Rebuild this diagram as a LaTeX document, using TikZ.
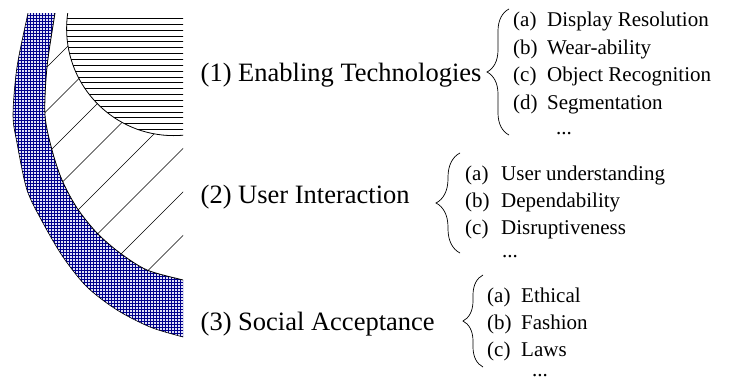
\documentclass[tikz,border=0pt]{standalone}
\usepackage{fontspec}
\setmainfont{Liberation Serif}
\usetikzlibrary{decorations.pathreplacing}

\definecolor{gridblue}{RGB}{0,0,140}
\definecolor{bandtint}{RGB}{226,226,246}

\tikzset{
  ring/.style={draw=black, line width=0.8pt},
  hatch/.style={draw=black, line width=0.6pt},
  gridline/.style={draw=gridblue, line width=0.36pt},
  heading/.style={anchor=base west, inner sep=0pt, font=\fontsize{26.5}{30}\selectfont},
  item/.style={anchor=base west, inner sep=0pt, font=\fontsize{21}{24}\selectfont},
  curly/.style={draw=black, line width=0.7pt, decorate, decoration={brace, amplitude=#1}},
}

\begin{document}
\begin{tikzpicture}[x=1pt, y=-1pt]
  \useasboundingbox (0,0) rectangle (729,381);
  \def\outercurve{plot[smooth] coordinates {(31,0) (28,13) (17,67) (13,115) (17,143) (27,190) (43,223) (63,257) (87,287) (117,310) (150,327) (183,337) (200,341)} -- (200,0) -- cycle}
  \def\middlecurve{plot[smooth] coordinates {(57,0) (55,13) (47,67) (45,115) (52,150) (62,180) (77,208) (97,233) (120,253) (147,270) (183,280) (200,284)} -- (200,0) -- cycle}
  \def\innercircle{(173.6,28.6) circle[radius=107]}

  \begin{scope}
    \clip (0,13) rectangle (183,381);
    % outer band
    \begin{scope}[even odd rule]
      \clip \outercurve \middlecurve;
      \fill[bandtint] (0,0) rectangle (200,345);
      \draw[gridline, step=3pt] (0,0) grid (200,345);
    \end{scope}
    % middle band
    \begin{scope}[even odd rule]
      \clip \middlecurve \innercircle;
      \foreach \k in {0,...,7}
        \draw[hatch] (0,{114+43.5*\k}) -- ({114+43.5*\k},0);
    \end{scope}
    % core
    \begin{scope}
      \clip \innercircle;
      \foreach \k in {0,...,20}
        \draw[hatch] (60,{18.3+5.85*\k}) -- (190,{18.3+5.85*\k});
    \end{scope}
    \draw[ring, line width=0.6pt] \outercurve;
    \draw[ring] \middlecurve;
    \draw[ring] \innercircle;
  \end{scope}

  % headings
  \node[heading] (tech) at (200.5,81.7) {(1) Enabling Technologies};
  \node[heading] (user) at (200.5,203) {(2) User Interaction};
  \node[heading] (social) at (200.5,330) {(3) Social Acceptance};

  % braces
  \coordinate (techlo) at (509,135);
  \coordinate (techhi) at (509,9);
  \coordinate (userlo) at (460,253);
  \coordinate (userhi) at (460,153);
  \coordinate (sociallo) at (483,367);
  \coordinate (socialhi) at (483,275);
  \draw[curly=22pt] (techlo) -- (techhi);
  \draw[curly=24pt] (userlo) -- (userhi);
  \draw[curly=20pt] (sociallo) -- (socialhi);

  % items
  \foreach \lab/\txt [count=\i] in {(a)/Display Resolution, (b)/Wear-ability, (c)/Object Recognition, (d)/Segmentation} {
    \node[item] (techl\i) at (513,{26.5+27.5*(\i-1)}) {\lab};
    \node[item] (techt\i) at (547,{26.5+27.5*(\i-1)}) {\txt};
  }
  \node[item] (techdots) at (556,134) {...};
  \foreach \lab/\txt [count=\i] in {(a)/User understanding, (b)/Dependability, (c)/Disruptiveness} {
    \node[item] (userl\i) at (465,{180+27*(\i-1)}) {\lab};
    \node[item] (usert\i) at (501,{180+27*(\i-1)}) {\txt};
  }
  \node[item] (userdots) at (502,257) {...};
  \foreach \lab/\txt [count=\i] in {(a)/Ethical, (b)/Fashion, (c)/Laws} {
    \node[item] (sociall\i) at (487,{302+27*(\i-1)}) {\lab};
    \node[item] (socialt\i) at (521,{302+27*(\i-1)}) {\txt};
  }
  \node[item] (socialdots) at (532,376) {...};
\end{tikzpicture}
\end{document}
